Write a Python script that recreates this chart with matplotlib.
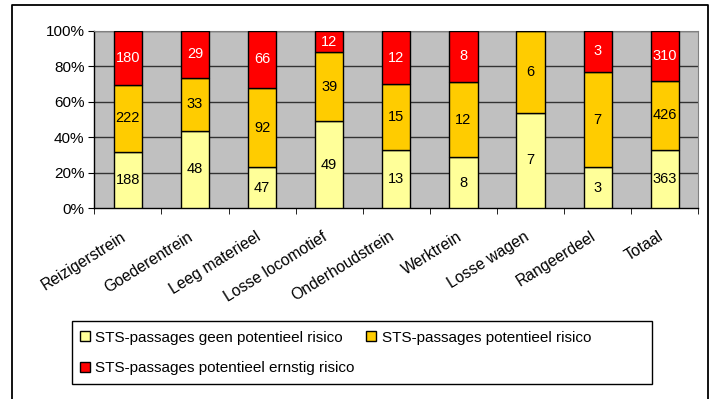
import matplotlib
matplotlib.use("Agg")
import matplotlib.pyplot as plt
import numpy as np
from matplotlib.patches import Patch, Rectangle
from matplotlib.lines import Line2D
from matplotlib.transforms import ScaledTranslation

plt.rcParams['font.family'] = ['Liberation Sans', 'DejaVu Sans']

categories = ["Reizigerstrein", "Goederentrein", "Leeg materieel", "Losse locomotief",
              "Onderhoudstrein", "Werktrein", "Losse wagen", "Rangeerdeel", "Totaal"]
geen = [188, 48, 47, 49, 13, 8, 7, 3, 363]
potentieel = [222, 33, 92, 39, 15, 12, 6, 7, 426]
ernstig = [180, 29, 66, 12, 12, 8, 0, 3, 310]
yticks = [0, 20, 40, 60, 80, 100]
ytick_labels = ["0%", "20%", "40%", "60%", "80%", "100%"]
series_names = ["STS-passages geen potentieel risico",
                "STS-passages potentieel risico",
                "STS-passages potentieel ernstig risico"]
colors = ["#FFFF99", "#FFCC00", "#FF0000"]
text_colors = ["black", "black", "white"]

W, H = 715, 399
fig = plt.figure(figsize=(W / 100, H / 100), dpi=100)
fig.patch.set_facecolor("white")

# outer chart border (left, top, right)
x0, x1, ytop = 12 / W, 708 / W, 1 - 5 / H
fig.add_artist(Line2D([x0, x0, x1, x1], [0, ytop, ytop, 0], color="black", lw=1.3,
                      transform=fig.transFigure))

ax = fig.add_axes([94.3 / W, 1 - 208 / H, (698.3 - 94.3) / W, (208 - 31) / H])
ax.set_facecolor("#C0C0C0")

data = np.array([geen, potentieel, ernstig], dtype=float)
totals = data.sum(axis=0)
pct = data / totals * 100
x = np.arange(len(categories))
bottom = np.zeros(len(categories))
for i in range(3):
    ax.bar(x, pct[i], bottom=bottom, width=0.42, color=colors[i], edgecolor="black",
           linewidth=1.0, zorder=3)
    for j in range(len(categories)):
        if data[i, j] > 0:
            ax.text(x[j], bottom[j] + pct[i, j] / 2, f"{int(data[i, j])}",
                    ha="center", va="center", fontsize=10.5, color=text_colors[i], zorder=4)
    bottom += pct[i]

ax.set_xlim(-0.5, len(categories) - 0.5)
ax.set_ylim(0, 100)
ax.set_yticks(yticks)
ax.set_yticklabels(ytick_labels, fontsize=11)
for yv in yticks[1:]:
    ax.axhline(yv, color="#333333", lw=1.0, zorder=1)

ax.set_xticks(x)
ax.set_xticklabels(categories, rotation=32, ha="right", rotation_mode="anchor", fontsize=11.3)
ax.tick_params(axis="x", length=0, pad=15)
shift = ScaledTranslation(-7 / 100, 0, fig.dpi_scale_trans)
for lbl in ax.get_xticklabels():
    lbl.set_transform(lbl.get_transform() + shift)
ax.set_xticks(np.arange(-0.5, len(categories), 1.0), minor=True)
ax.tick_params(axis="x", which="minor", length=4, direction="out", color="black")
ax.tick_params(axis="y", length=4, direction="out", color="black", pad=3)

for s in ["top", "right"]:
    ax.spines[s].set_color("#808080")
for s in ["left", "bottom"]:
    ax.spines[s].set_color("black")
    ax.spines[s].set_linewidth(1.0)

# legend frame
fig.add_artist(Rectangle((72 / W, 1 - 384 / H), 580 / W, 63 / H, transform=fig.transFigure,
                         facecolor="white", edgecolor="black", lw=1.0, zorder=1))

handles = [Patch(facecolor=colors[0], edgecolor="black", label=series_names[0]),
           Patch(facecolor=colors[2], edgecolor="black", label=series_names[2]),
           Patch(facecolor=colors[1], edgecolor="black", label=series_names[1])]
leg = fig.legend(handles=handles, loc="upper left", ncol=2,
                 bbox_to_anchor=(75 / W, 1 - 326 / H),
                 fontsize=11, frameon=False,
                 handlelength=0.65, handleheight=0.65, handletextpad=0.35,
                 labelspacing=1.08, borderaxespad=0, borderpad=0.3, columnspacing=0.8)
leg.set_zorder(2)

fig.savefig("out.png", dpi=100, facecolor="white")
